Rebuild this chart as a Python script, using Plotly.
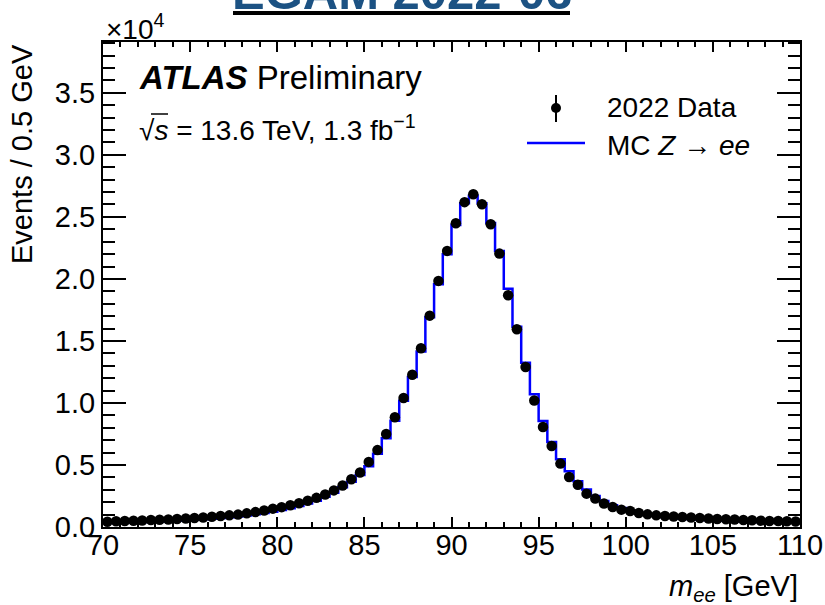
import plotly.graph_objects as go

# ---------------- data (units: events per 0.5 GeV) ----------------
bin_lo = 70.0
bin_width = 0.5
n_bins = 80
bin_centers = [bin_lo + bin_width * (i + 0.5) for i in range(n_bins)]

data_1e4 = [
    0.043, 0.046, 0.048, 0.050, 0.053, 0.056, 0.058, 0.061, 0.065, 0.068,
    0.072, 0.076, 0.082, 0.088, 0.094, 0.100, 0.110, 0.120, 0.133, 0.148,
    0.160, 0.175, 0.192, 0.212, 0.235, 0.262, 0.295, 0.335, 0.385, 0.440,
    0.525, 0.620, 0.750, 0.885, 1.040, 1.228, 1.441, 1.704, 1.984, 2.226,
    2.449, 2.619, 2.683, 2.602, 2.441, 2.204, 1.868, 1.594, 1.290, 1.020,
    0.806, 0.653, 0.511, 0.403, 0.340, 0.269, 0.229, 0.189, 0.161, 0.140,
    0.129, 0.113, 0.102, 0.094, 0.088, 0.085, 0.080, 0.077, 0.073, 0.068,
    0.065, 0.062, 0.060, 0.056, 0.054, 0.051, 0.048, 0.048, 0.046, 0.044,
]

mc_1e4 = [
    0.032, 0.034, 0.036, 0.038, 0.040, 0.042, 0.045, 0.048, 0.051, 0.054,
    0.058, 0.062, 0.067, 0.072, 0.078, 0.085, 0.093, 0.102, 0.112, 0.123,
    0.137, 0.151, 0.170, 0.190, 0.212, 0.244, 0.277, 0.320, 0.365, 0.420,
    0.490, 0.590, 0.715, 0.857, 1.018, 1.210, 1.414, 1.690, 1.957, 2.199,
    2.435, 2.610, 2.670, 2.610, 2.450, 2.226, 1.920, 1.615, 1.325, 1.070,
    0.855, 0.686, 0.546, 0.449, 0.369, 0.302, 0.250, 0.210, 0.175, 0.153,
    0.129, 0.113, 0.100, 0.090, 0.081, 0.075, 0.069, 0.064, 0.060, 0.056,
    0.053, 0.050, 0.047, 0.045, 0.043, 0.041, 0.039, 0.038, 0.036, 0.035,
]

scale = 1e4
data_counts = [v * scale for v in data_1e4]
mc_counts = [v * scale for v in mc_1e4]

x_tick_vals = [70, 75, 80, 85, 90, 95, 100, 105, 110]
x_tick_text = ["70", "75", "80", "85", "90", "95", "100", "105", "110"]
y_tick_vals = [0, 5000, 10000, 15000, 20000, 25000, 30000, 35000]
y_tick_text = ["0.0", "0.5", "1.0", "1.5", "2.0", "2.5", "3.0", "3.5"]

# ---------------- layout helpers ----------------
W, H = 825, 605
L, R, T, B = 103, 25, 42, 78
PW, PH = W - L - R, H - T - B


def px(xp):
    return (xp - L) / PW


def py(yp):
    return (H - B - yp) / PH


FONT = "Liberation Sans, Arial, Helvetica, sans-serif"

# step-histogram for MC: lower edges + closing edge
mc_x = [c - bin_width / 2 for c in bin_centers] + [bin_centers[-1] + bin_width / 2]
mc_y = mc_counts + [mc_counts[-1]]

fig = go.Figure()
fig.add_trace(go.Scatter(
    x=mc_x, y=mc_y, mode="lines", line=dict(color="#0000ff", width=2.5, shape="hv"),
    name="MC Z→ee", showlegend=False, hoverinfo="skip",
))
fig.add_trace(go.Scatter(
    x=bin_centers, y=data_counts, mode="markers",
    marker=dict(color="black", size=10.5, symbol="circle"),
    name="2022 Data", showlegend=False,
))

axis_common = dict(
    showline=True, linecolor="black", linewidth=2, mirror="allticks",
    ticks="inside", tickcolor="black", tickwidth=1.5,
    showgrid=False, zeroline=False, automargin=False,
    tickfont=dict(family=FONT, size=29, color="black"),
)

fig.update_xaxes(
    range=[70, 110], tickvals=x_tick_vals, ticktext=x_tick_text, ticklen=10,
    ticklabelstandoff=-9,
    minor=dict(dtick=1, ticklen=5, ticks="inside", tickcolor="black", tickwidth=1.5, showgrid=False),
    **axis_common,
)
fig.update_yaxes(
    range=[0, 39100], tickvals=y_tick_vals, ticktext=y_tick_text, ticklen=23,
    minor=dict(dtick=1000, ticklen=12, ticks="inside", tickcolor="black", tickwidth=1.5, showgrid=False),
    **axis_common,
)

annotations = [
    # header
    dict(x=px(401.5), y=py(-8), xref="paper", yref="paper", xanchor="center", yanchor="middle",
         text="<b>EGAM 2022-06</b>", showarrow=False,
         font=dict(family=FONT, size=49, color="#1c5283")),
    # exponent
    dict(x=px(104), y=py(27), xref="paper", yref="paper", xanchor="left", yanchor="middle",
         text="×10<sup>4</sup>", showarrow=False, font=dict(family=FONT, size=28, color="black")),
    # axis titles
    dict(x=px(22), y=1, xref="paper", yref="paper", xanchor="center", yanchor="top",
         text="Events / 0.5 GeV", textangle=-90, showarrow=False,
         font=dict(family=FONT, size=29, color="black")),
    dict(x=1, y=py(588), xref="paper", yref="paper", xanchor="right", yanchor="middle",
         text="<i>m</i><sub><i>ee</i></sub> [GeV]", showarrow=False,
         font=dict(family=FONT, size=29, color="black")),
    # ATLAS label
    dict(x=px(137), y=py(78), xref="paper", yref="paper", xanchor="left", yanchor="middle",
         text="<b><i>ATLAS</i></b> Preliminary", showarrow=False,
         font=dict(family=FONT, size=33, color="black")),
    dict(x=px(137), y=py(128), xref="paper", yref="paper", xanchor="left", yanchor="middle",
         text="√<i>s</i> = 13.6 TeV, 1.3 fb<sup>−1</sup>", showarrow=False,
         font=dict(family=FONT, size=28, color="black")),
    # legend texts
    dict(x=px(605), y=py(108), xref="paper", yref="paper", xanchor="left", yanchor="middle",
         text="2022 Data", showarrow=False, font=dict(family=FONT, size=28, color="black")),
    dict(x=px(605), y=py(145), xref="paper", yref="paper", xanchor="left", yanchor="middle",
         text="MC <i>Z</i> → <i>ee</i>", showarrow=False, font=dict(family=FONT, size=28, color="black")),
]

shapes = [
    # header underline
    dict(type="line", xref="paper", yref="paper", x0=px(233), x1=px(570), y0=py(13), y1=py(13),
         line=dict(color="black", width=4)),
    # sqrt overline
    dict(type="line", xref="paper", yref="paper", x0=px(151), x1=px(168), y0=py(114), y1=py(114),
         line=dict(color="black", width=1.5)),
    # legend: data marker with error bar
    dict(type="line", xref="paper", yref="paper", x0=px(556), x1=px(556), y0=py(95), y1=py(122),
         line=dict(color="black", width=2)),
    dict(type="circle", xref="paper", yref="paper", xsizemode="pixel", ysizemode="pixel",
         xanchor=px(556), yanchor=py(108), x0=-5, x1=5, y0=-5, y1=5,
         fillcolor="black", line=dict(color="black", width=0)),
    # legend: MC line
    dict(type="line", xref="paper", yref="paper", x0=px(527), x1=px(585), y0=py(143), y1=py(143),
         line=dict(color="#0000ff", width=2.5)),
]

fig.update_layout(
    width=W, height=H,
    margin=dict(l=L, r=R, t=T, b=B, pad=0, autoexpand=False),
    paper_bgcolor="white", plot_bgcolor="white",
    showlegend=False,
    annotations=annotations, shapes=shapes,
    font=dict(family=FONT, color="black"),
)

fig.write_html("out.html")
